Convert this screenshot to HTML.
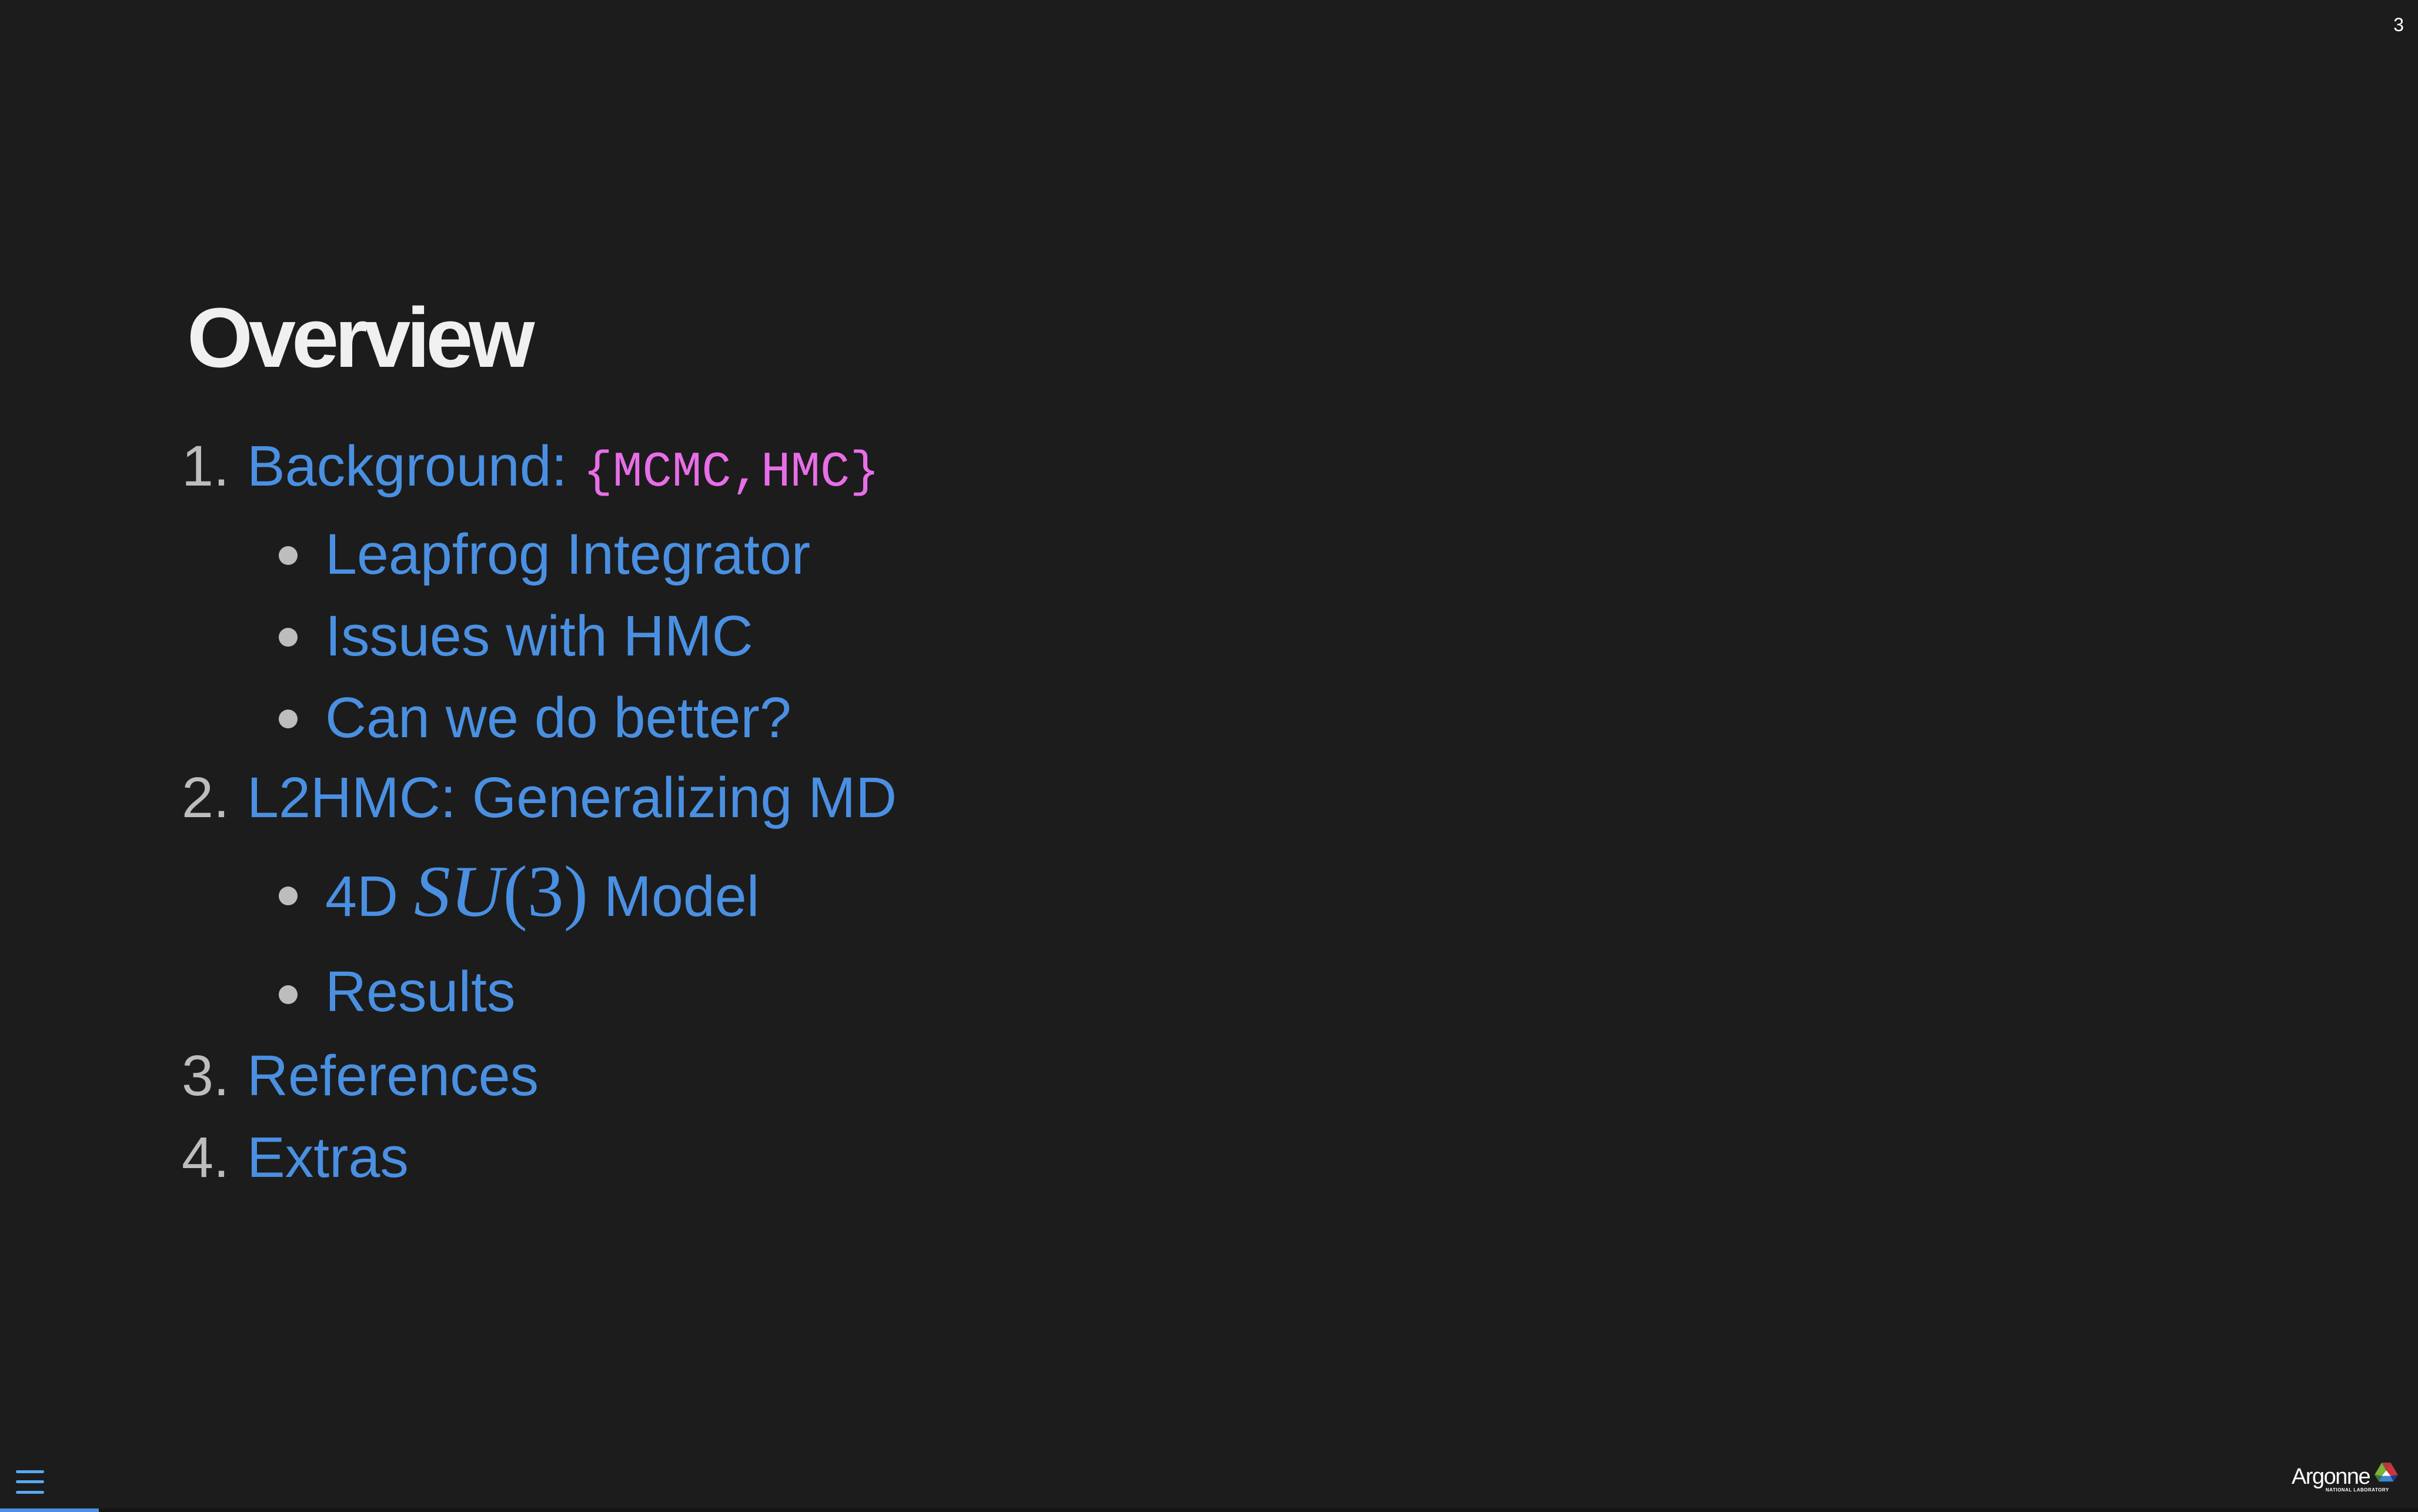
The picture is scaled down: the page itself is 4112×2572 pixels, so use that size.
<!DOCTYPE html>
<html><head><meta charset="utf-8"><style>
html,body{margin:0;padding:0;}
body{width:4112px;height:2572px;background:#1c1c1c;position:relative;overflow:hidden;font-family:"Liberation Sans",sans-serif;}
.t{position:absolute;white-space:nowrap;line-height:100px;height:100px;font-size:97px;}
.n{color:#bdbdbd;}
.b{color:#4a90e2;}
.m{font-family:"Liberation Mono",monospace;color:#e86ee8;font-size:84px;}
.dot{position:absolute;width:32px;height:32px;border-radius:50%;background:#bdbdbd;left:474px;}
.ham{position:absolute;left:27px;width:48px;height:5px;border-radius:3px;background:#5aa7f0;}
</style></head><body>
<div class="t" style="left:318px;top:502px;font-size:144px;line-height:146px;height:146px;font-weight:bold;color:#f0f0f0;letter-spacing:-7px;">Overview</div>

<div class="t" style="left:309px;top:743px;"><span class="n">1.</span></div>
<div class="t b" style="left:420px;top:743px;">Background: <span class="m">{MCMC,HMC}</span></div>

<div class="dot" style="top:929px;"></div>
<div class="t b" style="left:553px;top:893px;">Leapfrog Integrator</div>
<div class="dot" style="top:1068px;"></div>
<div class="t b" style="left:553px;top:1032px;">Issues with HMC</div>
<div class="dot" style="top:1207px;"></div>
<div class="t b" style="left:553px;top:1171px;">Can we do better?</div>

<div class="t n" style="left:309px;top:1307px;">2.</div>
<div class="t b" style="left:420px;top:1307px;">L2HMC: Generalizing MD</div>

<div class="dot" style="top:1508px;"></div>
<div class="t b" style="left:553px;top:1467px;">4D <span style="font-family:'Liberation Serif',serif;font-size:124px;"><i>SU</i>(3)</span> Model</div>
<div class="dot" style="top:1676px;"></div>
<div class="t b" style="left:553px;top:1637px;">Results</div>

<div class="t n" style="left:309px;top:1780px;">3.</div>
<div class="t b" style="left:420px;top:1780px;">References</div>
<div class="t n" style="left:309px;top:1919px;">4.</div>
<div class="t b" style="left:420px;top:1919px;">Extras</div>

<div style="position:absolute;right:24px;top:24px;color:#fff;font-size:32px;line-height:36px;">3</div>

<div class="ham" style="top:2501px;"></div>
<div class="ham" style="top:2518px;"></div>
<div class="ham" style="top:2536px;"></div>
<div style="position:absolute;left:0;top:2566px;width:4112px;height:6px;background:#151515;"></div>
<div style="position:absolute;left:0;top:2566px;width:168px;height:6px;background:#4a90e2;"></div>

<div style="position:absolute;left:3897px;top:2492px;color:#fff;font-size:38px;line-height:40px;letter-spacing:-1.5px;">Argonne</div>
<div style="position:absolute;left:3955px;top:2530px;color:#fff;font-size:8px;line-height:10px;font-weight:bold;letter-spacing:0.5px;">NATIONAL LABORATORY</div>
<svg style="position:absolute;left:4038px;top:2488px;" width="40" height="36" viewBox="0 0 42 38">
<polygon points="13,0 29,0 21,14" fill="#b03a3a"/>
<polygon points="13,0 21,14 13,24 0,22" fill="#7bb23a"/>
<polygon points="29,0 42,22 29,24 21,14" fill="#c8373a"/>
<polygon points="21,14 29,24 13,24" fill="#ffffff"/>
<polygon points="0,22 13,24 8,34" fill="#3c7a3c"/>
<polygon points="13,24 29,24 34,34 8,34" fill="#3a86d0"/>
<polygon points="29,24 42,22 34,34" fill="#1a3a9a"/>
</svg>
</body></html>
